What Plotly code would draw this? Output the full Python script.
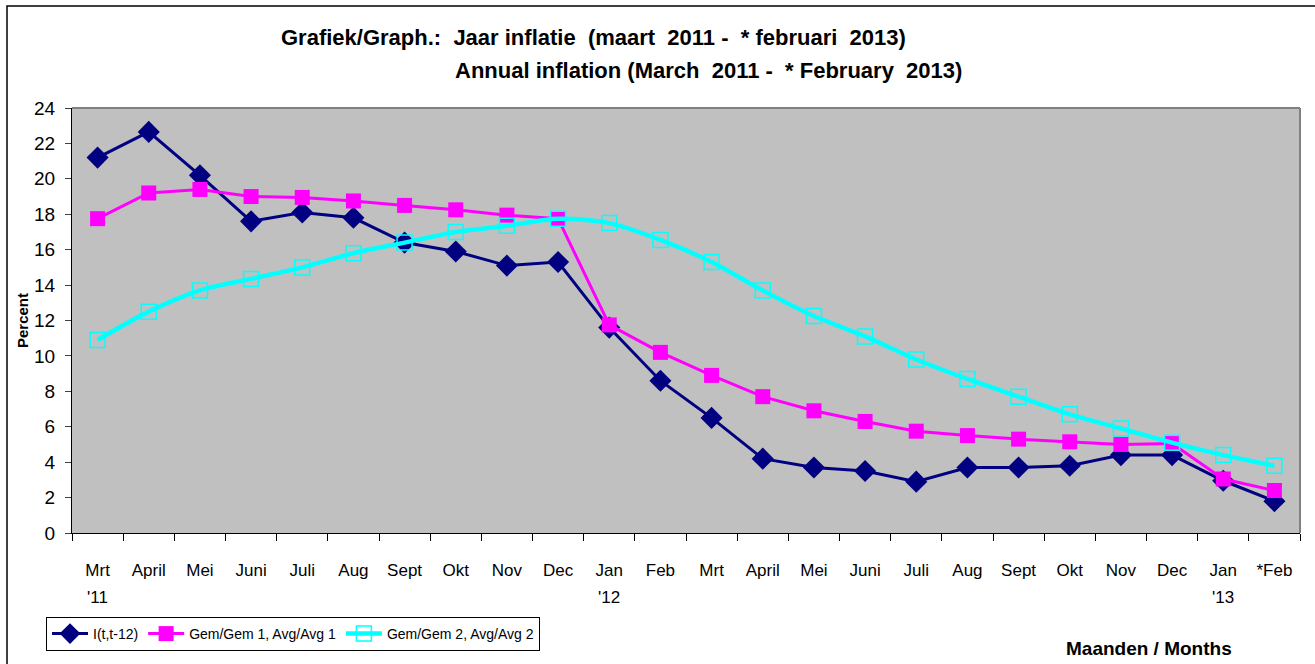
import plotly.graph_objects as go

months = ["Mrt", "April", "Mei", "Juni", "Juli", "Aug", "Sept", "Okt", "Nov", "Dec",
          "Jan", "Feb", "Mrt ", "April ", "Mei ", "Juni ", "Juli ", "Aug ", "Sept ", "Okt ",
          "Nov ", "Dec ", "Jan ", "*Feb"]
tick_labels = ["Mrt", "April", "Mei", "Juni", "Juli", "Aug", "Sept", "Okt", "Nov", "Dec",
               "Jan", "Feb", "Mrt", "April", "Mei", "Juni", "Juli", "Aug", "Sept", "Okt",
               "Nov", "Dec", "Jan", "*Feb"]
year_labels = {"Mrt": "'11", "Jan": "'12", "Jan ": "'13"}

infl = [21.2, 22.65, 20.2, 17.6, 18.1, 17.8, 16.4, 15.9, 15.1, 15.3,
        11.6, 8.6, 6.5, 4.2, 3.7, 3.5, 2.9, 3.7, 3.7, 3.8,
        4.4, 4.4, 2.95, 1.8]
avg1 = [17.75, 19.2, 19.4, 19.0, 18.95, 18.75, 18.5, 18.25, 17.95, 17.75,
        11.75, 10.2, 8.9, 7.7, 6.9, 6.3, 5.75, 5.5, 5.3, 5.15,
        5.0, 5.05, 3.05, 2.4]
avg2 = [10.9, 12.5, 13.7, 14.35, 15.0, 15.8, 16.4, 17.0, 17.35, 17.75,
        17.5, 16.55, 15.3, 13.7, 12.25, 11.1, 9.8, 8.7, 7.7, 6.7,
        5.9, 5.1, 4.4, 3.8]

FONT = "Liberation Sans, Arial, sans-serif"

L, R, T, B = 72, 15, 108, 131
PW, PH = 1315 - L - R, 664 - T - B


def px(xp):
    return (xp - L) / PW


def py(yp):
    return (664 - B - yp) / PH


fig = go.Figure()
fig.add_trace(go.Scatter(
    x=months, y=infl, name="I(t,t-12)", mode="lines+markers",
    line=dict(color="#000080", width=3),
    marker=dict(symbol="diamond", size=17, color="#000080"),
))
fig.add_trace(go.Scatter(
    x=months, y=avg1, name="Gem/Gem 1, Avg/Avg 1", mode="lines+markers",
    line=dict(color="#FF00FF", width=3),
    marker=dict(symbol="square", size=15, color="#FF00FF"),
))
fig.add_trace(go.Scatter(
    x=months, y=avg2, name="Gem/Gem 2, Avg/Avg 2", mode="lines+markers",
    line=dict(color="#00FFFF", width=4.5, shape="spline", smoothing=0.8),
    marker=dict(symbol="square-open", size=15, color="#00FFFF", line=dict(width=1.5)),
))

annotations = [
    dict(text="<b>Grafiek/Graph.:  Jaar inflatie  (maart  2011 -  * februari  2013)</b>",
         xref="paper", yref="paper", x=px(593), y=py(38),
         showarrow=False, font=dict(family=FONT, size=22, color="black"),
         xanchor="center", yanchor="middle"),
    dict(text="<b>Annual inflation (March  2011 -  * February  2013)</b>",
         xref="paper", yref="paper", x=px(708), y=py(70),
         showarrow=False, font=dict(family=FONT, size=22, color="black"),
         xanchor="center", yanchor="middle"),
    dict(text="<b>Maanden / Months</b>",
         xref="paper", yref="paper", x=px(1149), y=py(648),
         showarrow=False, font=dict(family=FONT, size=19, color="black"),
         xanchor="center", yanchor="middle"),
]
for cat, lab in year_labels.items():
    annotations.append(dict(text=lab, x=cat, xref="x", yref="paper",
                            y=py(597), showarrow=False,
                            font=dict(family=FONT, size=17, color="black"),
                            xanchor="center", yanchor="middle"))

shapes = [
    dict(type="line", xref="paper", yref="paper", x0=0, x1=1, y0=1, y1=1,
         line=dict(color="#808080", width=2), layer="above"),
    dict(type="line", xref="paper", yref="paper", x0=1, x1=1, y0=0, y1=1,
         line=dict(color="#808080", width=2), layer="above"),
    dict(type="rect", xref="paper", yref="paper",
         x0=px(7), x1=px(1325), y0=py(680), y1=py(6),
         line=dict(color="black", width=1.5), layer="above"),
]

fig.update_layout(
    width=1315, height=664,
    margin=dict(l=L, r=R, t=T, b=B, autoexpand=False),
    paper_bgcolor="white",
    plot_bgcolor="#C0C0C0",
    font=dict(family=FONT, size=17, color="black"),
    showlegend=True,
    legend=dict(orientation="h", x=px(46), y=py(617),
                xanchor="left", yanchor="top",
                bordercolor="black", borderwidth=1, bgcolor="white",
                font=dict(family=FONT, size=14), itemwidth=36,
                tracegroupgap=0),
    annotations=annotations,
    shapes=shapes,
)
fig.update_xaxes(
    type="category",
    tickmode="array", tickvals=months, ticktext=tick_labels,
    showgrid=False, showline=True, linecolor="black", linewidth=1,
    ticks="outside", tickson="boundaries", ticklen=7, tickcolor="black",
    tickfont=dict(family=FONT, size=17), range=[-0.5, 23.5],
    zeroline=False, ticklabelstandoff=22,
)
fig.update_yaxes(
    range=[0, 24], dtick=2, tick0=0,
    showgrid=False, showline=True, linecolor="black", linewidth=1,
    ticks="outside", ticklen=6, tickcolor="#404040",
    tickfont=dict(family=FONT, size=19), zeroline=False, ticklabelstandoff=6,
    title=dict(text="<b>Percent</b>", font=dict(family=FONT, size=15), standoff=1),
)

fig.write_html(
    "out.html",
    config={"displayModeBar": False},
    post_script="document.body.style.margin='0';document.body.style.padding='0';",
)
